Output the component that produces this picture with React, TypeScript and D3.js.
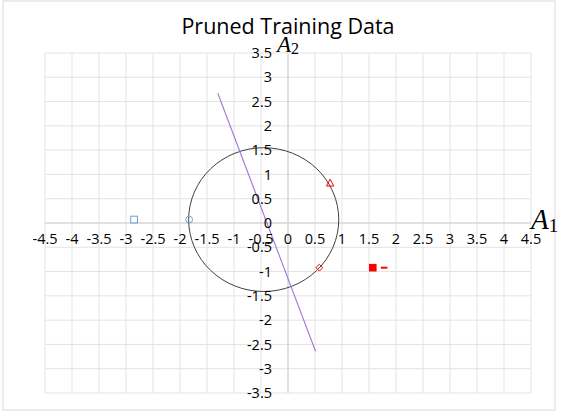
import * as d3 from "d3";

// axis ticks
const xTicks = [-4.5, -4, -3.5, -3, -2.5, -2, -1.5, -1, -0.5, 0, 0.5, 1, 1.5, 2, 2.5, 3, 3.5, 4, 4.5];
const yTicks = [-3.5, -3, -2.5, -2, -1.5, -1, -0.5, 0, 0.5, 1, 1.5, 2, 2.5, 3, 3.5];

// pruned training points
const bluePoints = [
  { x: -2.85, y: 0.07, shape: "square" },
  { x: -1.83, y: 0.07, shape: "circle" },
];
const redPoints = [
  { x: 0.78, y: 0.82, shape: "triangle" },
  { x: 0.58, y: -0.92, shape: "diamond" },
  { x: 1.57, y: -0.92, shape: "filled" },
  { x: 1.78, y: -0.92, shape: "dash" },
];

// separating line and boundary circle
const splitLine = [
  { x: -1.3, y: 2.67 },
  { x: 0.51, y: -2.64 },
];
const boundary = { cx: -0.45, cy: 0.07, rx: 1.39, ry: 1.48 };

const W = 565;
const H = 415;
const plot = { left: 45, right: 531, top: 53, bottom: 393 };
const FONT = "'Open Sans', sans-serif";
const MATH = "'Liberation Serif', serif";

const Marker = ({ shape, px, py, color }: { shape: string; px: number; py: number; color: string }) => {
  const s = 3.4;
  if (shape === "square")
    return <rect x={px - s} y={py - s} width={2 * s} height={2 * s} fill="none" stroke={color} strokeWidth={1} />;
  if (shape === "circle") return <circle cx={px} cy={py} r={s} fill="none" stroke={color} strokeWidth={1} />;
  if (shape === "triangle")
    return (
      <path
        d={`M${px},${py - s - 0.5}L${px + s + 0.3},${py + s - 0.5}L${px - s - 0.3},${py + s - 0.5}Z`}
        fill="none"
        stroke={color}
        strokeWidth={1}
      />
    );
  if (shape === "diamond")
    return <path d={`M${px},${py - s}L${px + s},${py}L${px},${py + s}L${px - s},${py}Z`} fill="none" stroke={color} strokeWidth={1} />;
  if (shape === "filled") return <rect x={px - 3.8} y={py - 3.8} width={7.6} height={7.6} fill={color} />;
  return <line x1={px - 3.3} x2={px + 3.3} y1={py} y2={py} stroke={color} strokeWidth={2} />;
};

export default function App() {
  const x = d3.scaleLinear().domain([-4.5, 4.5]).range([plot.left, plot.right]);
  const y = d3.scaleLinear().domain([-3.5, 3.5]).range([plot.bottom, plot.top]);
  const line = d3
    .line<{ x: number; y: number }>()
    .x((d) => x(d.x))
    .y((d) => y(d.y));

  const ecx = x(boundary.cx);
  const ecy = y(boundary.cy);
  const erx = x(boundary.cx + boundary.rx) - ecx;
  const ery = ecy - y(boundary.cy + boundary.ry);

  return (
    <svg width={W} height={H} style={{ position: "absolute", left: 0, top: 0, background: "#fff" }}>
      <rect x={3} y={1} width={552} height={409} fill="#fff" stroke="#d9d9d9" strokeWidth={1} />

      {/* grid */}
      {xTicks.map((t) => (
        <line key={"gx" + t} x1={x(t)} x2={x(t)} y1={plot.top} y2={plot.bottom} stroke="#e3e3e3" strokeWidth={1} />
      ))}
      {yTicks.map((t) => (
        <line key={"gy" + t} x1={plot.left} x2={plot.right} y1={y(t)} y2={y(t)} stroke="#e3e3e3" strokeWidth={1} />
      ))}
      <line x1={x(0)} x2={x(0)} y1={plot.top} y2={plot.bottom} stroke="#d0d0d0" strokeWidth={1} />
      <line x1={plot.left} x2={plot.right} y1={y(0)} y2={y(0)} stroke="#d0d0d0" strokeWidth={1} />

      <text x={(plot.left + plot.right) / 2} y={34} textAnchor="middle" fontFamily={FONT} fontSize={21.5} fill="#000">
        Pruned Training Data
      </text>

      <ellipse cx={ecx} cy={ecy} rx={erx} ry={ery} fill="none" stroke="#404040" strokeWidth={1} />
      <path d={line(splitLine) ?? ""} fill="none" stroke="#a07ad0" strokeWidth={1.1} />

      {bluePoints.map((p, i) => (
        <Marker key={"b" + i} shape={p.shape} px={x(p.x)} py={y(p.y)} color="#6fa0d8" />
      ))}
      {redPoints.map((p, i) => (
        <Marker key={"r" + i} shape={p.shape} px={x(p.x)} py={y(p.y)} color="#ff0000" />
      ))}

      {/* tick labels */}
      {xTicks.map((t) => (
        <text key={"tx" + t} x={x(t)} y={y(0) + 21} textAnchor="middle" fontFamily={FONT} fontSize={14.5} fill="#000">
          {String(t)}
        </text>
      ))}
      {yTicks.map((t) => (
        <text key={"ty" + t} x={x(0) - 16} y={y(t)} dy="0.35em" textAnchor="end" fontFamily={FONT} fontSize={14.5} fill="#000">
          {String(t)}
        </text>
      ))}

      <text x={531} y={229} fontFamily={MATH} fontStyle="italic" fontSize={29} fill="#000">
        A<tspan fontStyle="normal" fontSize={19} dy={3}>1</tspan>
      </text>
      <text x={277} y={52} fontFamily={MATH} fontStyle="italic" fontSize={23} fill="#000">
        A<tspan fontStyle="normal" fontSize={16} dy={2}>2</tspan>
      </text>
    </svg>
  );
}
